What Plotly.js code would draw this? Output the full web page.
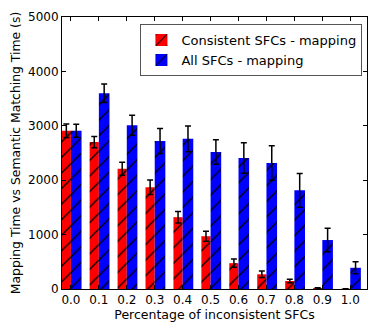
<!DOCTYPE html>
<html><head><meta charset="utf-8">
<script src="https://cdn.plot.ly/plotly-3.0.1.min.js"></script>
<style>html,body{margin:0;padding:0;background:#fff}#chart{width:368px;height:322px}</style>
</head><body><div id="chart"></div>
<script>
const categories = [0.0, 0.1, 0.2, 0.3, 0.4, 0.5, 0.6, 0.7, 0.8, 0.9, 1.0];
const tickLabels = ["0.0","0.1","0.2","0.3","0.4","0.5","0.6","0.7","0.8","0.9","1.0"];
const consistentMapping = [2910, 2700, 2210, 1870, 1320, 970, 475, 270, 147, 18, 5];
const consistentErr     = [125, 105, 120, 135, 105, 90, 75, 60, 30, 5, 0];
const allMapping        = [2910, 3600, 3010, 2720, 2760, 2520, 2410, 2316, 1815, 900, 390];
const allErr            = [120, 170, 185, 230, 235, 225, 280, 318, 310, 215, 110];

const errStyle = {type: 'data', visible: true, color: '#000', thickness: 1.5, width: 3};

const traces = [
  {type: 'bar', name: 'Consistent SFCs - mapping', x: categories, y: consistentMapping,
   offset: -0.033, width: 0.033,
   error_y: Object.assign({array: consistentErr}, errStyle),
   marker: {color: '#ff0000', line: {width: 0},
            pattern: {shape: '/', size: 11, solidity: 0.12, fgcolor: '#000', bgcolor: '#ff0000', fgopacity: 1}}},
  {type: 'bar', name: 'All SFCs - mapping', x: categories, y: allMapping,
   offset: 0, width: 0.038,
   error_y: Object.assign({array: allErr}, errStyle),
   marker: {color: '#0000ff', line: {width: 0},
            pattern: {shape: '/', size: 11, solidity: 0.12, fgcolor: '#000', bgcolor: '#0000ff', fgopacity: 1}}}
];

const layout = {
  width: 368, height: 322,
  margin: {l: 62, r: 1, t: 17, b: 33},
  paper_bgcolor: '#fff', plot_bgcolor: '#fff',
  font: {family: 'DejaVu Sans', size: 12, color: '#000'},
  barmode: 'overlay',
  showlegend: true,
  legend: {x: 0.985, y: 0.974, xanchor: 'right', yanchor: 'top',
           bgcolor: '#fff', bordercolor: '#555', borderwidth: 1,
           font: {family: 'DejaVu Sans', size: 13, color: '#000'},
           itemwidth: 30, tracegroupgap: 0},
  xaxis: {range: [-0.032, 1.06], tickvals: categories, ticktext: tickLabels,
          ticks: 'inside', ticklen: 4, tickcolor: '#000', showline: true, linecolor: '#000', linewidth: 1,
          mirror: 'ticks', showgrid: false, zeroline: false,
          tickfont: {family: 'DejaVu Sans', size: 12, color: '#000'},
          title: {text: 'Percentage of inconsistent SFCs', standoff: 2,
                  font: {family: 'DejaVu Sans', size: 12.5, color: '#000'}}},
  yaxis: {range: [0, 5000], tickvals: [0,1000,2000,3000,4000,5000],
          ticks: 'inside', ticklen: 4, tickcolor: '#000', showline: true, linecolor: '#000', linewidth: 1,
          mirror: 'ticks', showgrid: false, zeroline: false,
          tickfont: {family: 'DejaVu Sans', size: 12, color: '#000'},
          title: {text: 'Mapping Time vs Semantic Matching Time (s)', standoff: 4,
                  font: {family: 'DejaVu Sans', size: 12.4, color: '#000'}}}
};

Plotly.newPlot('chart', traces, layout, {displayModeBar: false, staticPlot: true});
</script></body></html>
